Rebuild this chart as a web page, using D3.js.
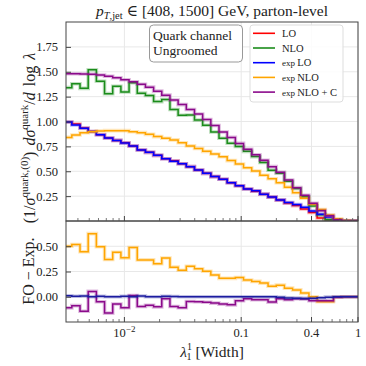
<!DOCTYPE html>
<html>
<head>
<meta charset="utf-8">
<script src="https://cdn.jsdelivr.net/npm/d3@7"></script>
<style>
  html, body { margin: 0; padding: 0; background: #fff; }
  svg text { font-family: "Liberation Serif", "DejaVu Serif", serif; fill: #222; }
</style>
</head>
<body>
<div id="vis"></div>
<script>
// binning: 36 log bins, 0.07 decade wide, last edge at 1
var nBins = 36;
var binDec = 0.07;

// top panel, per bin (left -> right)
var lo      = [0.995,0.975,0.935,0.90,0.867,0.834,0.81,0.786,0.754,0.714,0.69,0.66,0.625,0.605,0.575,0.546,0.513,0.479,0.446,0.419,0.385,0.355,0.322,0.30,0.27,0.24,0.21,0.18,0.155,0.12,0.085,0.03,0.012,0.003,0,0];
var nlo     = [1.34,1.38,1.333,1.52,1.405,1.28,1.355,1.297,1.39,1.285,1.262,1.20,1.22,1.12,1.063,1.066,1.014,0.962,0.894,0.832,0.782,0.748,0.70,0.647,0.588,0.51,0.48,0.40,0.327,0.244,0.152,0.062,0.013,0,0,0];
var expLo   = [0.995,0.965,0.932,0.90,0.867,0.834,0.81,0.783,0.754,0.714,0.69,0.66,0.625,0.60,0.575,0.546,0.513,0.479,0.446,0.419,0.385,0.355,0.322,0.303,0.27,0.24,0.212,0.185,0.165,0.137,0.10,0.067,0.04,0.012,0.002,0];
var expNlo  = [0.84,0.864,0.888,0.897,0.905,0.908,0.908,0.908,0.897,0.888,0.871,0.848,0.831,0.815,0.787,0.755,0.728,0.70,0.674,0.645,0.607,0.573,0.535,0.502,0.46,0.425,0.385,0.34,0.285,0.228,0.168,0.115,0.06,0.022,0.005,0];
var expNloC = [1.48,1.48,1.478,1.475,1.468,1.455,1.44,1.42,1.40,1.375,1.345,1.305,1.265,1.215,1.17,1.12,1.075,1.02,0.96,0.895,0.84,0.78,0.72,0.665,0.61,0.546,0.489,0.412,0.335,0.258,0.178,0.104,0.054,0.012,0,0];

// bottom panel: fixed order minus expansion
var diffLo   = [0.01,0.005,0.008,0,0.004,0,0,0.004,0,0.008,0,0,0.004,0.002,0,0,0,0,0,0,0,0,0,0,0,0,-0.005,-0.012,-0.015,-0.018,-0.015,-0.01,-0.004,0,0,0];
var diffNlo  = [0.50,0.517,0.445,0.625,0.495,0.37,0.44,0.385,0.487,0.365,0.365,0.326,0.384,0.293,0.262,0.302,0.277,0.252,0.215,0.182,0.182,0.19,0.165,0.152,0.135,0.105,0.115,0.085,0.068,0.036,0,-0.05,-0.05,-0.005,0,0];
var diffNloC = [-0.11,-0.088,-0.143,0.053,-0.05,-0.162,-0.072,-0.109,0.013,-0.096,-0.085,-0.1,-0.02,-0.097,-0.108,-0.047,-0.05,-0.055,-0.063,-0.073,-0.08,-0.04,-0.02,-0.03,-0.03,-0.053,-0.02,-0.03,-0.02,-0.022,-0.04,-0.04,-0.04,-0.005,0,0];

var topTicks = [0.25, 0.5, 0.75, 1.0, 1.25, 1.5, 1.75];
var botTicks = [0, 0.25, 0.5];
var xTicks = [0.01, 0.1, 0.4, 1];
var xTickLabels = ["10", "0.1", "0.4", "1"];

var legendNames = ["LO", "NLO", "exp LO", "exp NLO", "exp NLO + C"];
var colors = {lo: "#ff0000", nlo: "#1a8c1a", expLo: "#0000ff", expNlo: "#ffa500", expNloC: "#8b0a8b"};

var W = 366, H = 366;
var margin = {left: 66, right: 8, top: 22};
var topBottom = 221, botBottom = 322;

var svg = d3.select("#vis").append("svg").attr("width", W).attr("height", H);

var edges = d3.range(nBins + 1).map(function(k) { return Math.pow(10, -(nBins - k) * binDec); });

var x = d3.scaleLog().domain([Math.pow(10, -2.5), 1]).range([margin.left, W - margin.right]);
var yTop = d3.scaleLinear().domain([0, 2.0]).range([topBottom, margin.top]);
var yBot = d3.scaleLinear().domain([-0.25, 0.75]).range([botBottom, topBottom]);

svg.append("clipPath").attr("id", "clipTop").append("rect")
  .attr("x", x.range()[0]).attr("y", margin.top)
  .attr("width", x.range()[1] - x.range()[0]).attr("height", topBottom - margin.top);
svg.append("clipPath").attr("id", "clipBot").append("rect")
  .attr("x", x.range()[0]).attr("y", topBottom)
  .attr("width", x.range()[1] - x.range()[0]).attr("height", botBottom - topBottom);

function stepPath(vals, y) {
  var p = "M" + x(edges[0]) + "," + y(vals[0]);
  for (var i = 0; i < vals.length; i++) {
    if (i > 0) p += "V" + y(vals[i]);
    p += "H" + x(edges[i + 1]);
  }
  return p;
}

// grids
function grid(y, ticks, y0, y1) {
  var g = svg.append("g").attr("class", "grid");
  g.selectAll(".gx").data(xTicks).enter().append("line")
    .attr("x1", function(d) { return x(d); }).attr("x2", function(d) { return x(d); })
    .attr("y1", y0).attr("y2", y1)
    .attr("stroke", "#e8e8e8").attr("stroke-width", 1);
  g.selectAll(".gy").data(ticks).enter().append("line")
    .attr("x1", x.range()[0]).attr("x2", x.range()[1])
    .attr("y1", function(d) { return y(d); }).attr("y2", function(d) { return y(d); })
    .attr("stroke", "#e8e8e8").attr("stroke-width", 1);
}
grid(yTop, topTicks, margin.top, topBottom);
grid(yBot, botTicks, topBottom, botBottom);

function drawSeries(vals, y, color, clip) {
  var g = svg.append("g").attr("clip-path", "url(#" + clip + ")");
  g.append("path").attr("d", stepPath(vals, y))
    .attr("fill", "none").attr("stroke", color).attr("stroke-width", 3.6).attr("stroke-opacity", 0.28);
  g.append("path").attr("d", stepPath(vals, y))
    .attr("fill", "none").attr("stroke", color).attr("stroke-width", 1.5);
}

drawSeries(lo, yTop, colors.lo, "clipTop");
drawSeries(nlo, yTop, colors.nlo, "clipTop");
drawSeries(expLo, yTop, colors.expLo, "clipTop");
drawSeries(expNlo, yTop, colors.expNlo, "clipTop");
drawSeries(expNloC, yTop, colors.expNloC, "clipTop");

drawSeries(diffNlo, yBot, colors.expNlo, "clipBot");
drawSeries(diffNloC, yBot, colors.expNloC, "clipBot");
drawSeries(diffLo, yBot, "#1c1ca0", "clipBot");

// frames
[[margin.top, topBottom], [topBottom, botBottom]].forEach(function(r) {
  svg.append("rect").attr("x", x.range()[0]).attr("y", r[0])
    .attr("width", x.range()[1] - x.range()[0]).attr("height", r[1] - r[0])
    .attr("fill", "none").attr("stroke", "#444").attr("stroke-width", 1);
});

// y axes (ticks inward)
function yAxis(y, ticks, fmt) {
  var g = svg.append("g").attr("transform", "translate(" + x.range()[0] + ",0)")
    .call(d3.axisLeft(y).tickValues(ticks).tickSize(-5).tickPadding(8).tickFormat(fmt));
  g.select(".domain").remove();
  g.selectAll(".tick line").attr("stroke", "#444");
  g.selectAll(".tick text").attr("font-size", 12.5).attr("fill", "#333")
    .attr("font-family", "Liberation Serif, serif");
}
yAxis(yTop, topTicks, d3.format(".2f"));
yAxis(yBot, botTicks, d3.format(".2f"));

// x axes: minor + major ticks inward
var minor = [];
[0.001, 0.01, 0.1].forEach(function(dec) {
  for (var m = 2; m <= 9; m++) minor.push(dec * m);
});
minor = minor.filter(function(v) { return v > x.domain()[0] && v < 1 && xTicks.indexOf(+v.toFixed(4)) < 0; });

[topBottom, botBottom].forEach(function(yb) {
  svg.append("g").selectAll("line").data(minor).enter().append("line")
    .attr("x1", function(d) { return x(d); }).attr("x2", function(d) { return x(d); })
    .attr("y1", yb).attr("y2", yb - 3).attr("stroke", "#555").attr("stroke-width", 0.8);
  svg.append("g").selectAll("line").data(xTicks).enter().append("line")
    .attr("x1", function(d) { return x(d); }).attr("x2", function(d) { return x(d); })
    .attr("y1", yb).attr("y2", yb - 5).attr("stroke", "#444").attr("stroke-width", 1);
});

var xl = svg.append("g").selectAll("text").data(xTicks).enter().append("text")
  .attr("x", function(d) { return x(d); }).attr("y", 337)
  .attr("text-anchor", "middle").attr("font-size", 12.5).attr("fill", "#333")
  .text(function(d, i) { return xTickLabels[i]; });
xl.filter(function(d, i) { return i === 0; })
  .append("tspan").attr("dy", -5).attr("font-size", 9).text("\u22122");

// title
var title = svg.append("text").attr("x", (x.range()[0] + x.range()[1]) / 2).attr("y", 16)
  .attr("text-anchor", "middle").attr("font-size", 15.5);
title.append("tspan").attr("font-style", "italic").text("p");
title.append("tspan").attr("dy", 3).attr("font-size", 10.5).attr("font-style", "italic").text("T");
title.append("tspan").attr("font-size", 10.5).text(",jet");
title.append("tspan").attr("dy", -3).text(" \u2208 [408, 1500] GeV, parton-level");

// x label
var xlab = svg.append("text").attr("x", (x.range()[0] + x.range()[1]) / 2).attr("y", 357)
  .attr("text-anchor", "middle").attr("font-size", 15.5);
xlab.append("tspan").attr("font-style", "italic").text("\u03bb");
xlab.append("tspan").attr("font-size", 10).attr("dy", -7).text("1");
xlab.append("tspan").attr("font-size", 10).attr("dx", -5).attr("dy", 10).text("1");
xlab.append("tspan").attr("dy", -3).text(" [Width]");

// y label top
var yl = svg.append("text").attr("transform", "translate(35,138) rotate(-90)")
  .attr("text-anchor", "middle").attr("font-size", 16).attr("word-spacing", 2);
yl.append("tspan").text("(1/");
yl.append("tspan").attr("font-style", "italic").text("\u03c3");
yl.append("tspan").attr("font-size", 11).attr("dy", -7).text("quark,(0)");
yl.append("tspan").attr("dy", 7).text(") ");
yl.append("tspan").attr("font-style", "italic").text("d\u03c3");
yl.append("tspan").attr("font-size", 11).attr("dy", -7).text("quark");
yl.append("tspan").attr("dy", 7).text("/");
yl.append("tspan").attr("font-style", "italic").text("d");
yl.append("tspan").text(" log ");
yl.append("tspan").attr("font-style", "italic").text("\u03bb");

// y label bottom
svg.append("text").attr("transform", "translate(34,271) rotate(-90)")
  .attr("text-anchor", "middle").attr("font-size", 16).text("FO \u2212 Exp.");

// text box
svg.append("rect").attr("x", 149.5).attr("y", 25).attr("width", 93).attr("height", 37)
  .attr("rx", 4).attr("fill", "#fff").attr("stroke", "#999").attr("stroke-width", 1);
svg.append("text").attr("x", 153).attr("y", 40).attr("font-size", 13.5).text("Quark channel");
svg.append("text").attr("x", 153).attr("y", 55).attr("font-size", 13.5).text("Ungroomed");

// legend
var legColors = [colors.lo, colors.nlo, colors.expLo, colors.expNlo, colors.expNloC];
svg.append("rect").attr("x", 250).attr("y", 25).attr("width", 93).attr("height", 77)
  .attr("rx", 3).attr("fill", "#fff").attr("fill-opacity", 0.85).attr("stroke", "#ddd").attr("stroke-width", 1);
var leg = svg.append("g").selectAll("g").data(legendNames).enter().append("g")
  .attr("transform", function(d, i) { return "translate(253," + (33.3 + i * 14.7) + ")"; });
leg.append("line").attr("x1", 0).attr("x2", 22).attr("y1", 0).attr("y2", 0)
  .attr("stroke", function(d, i) { return legColors[i]; }).attr("stroke-width", 1.6);
leg.each(function(d) {
  var t = d3.select(this).append("text").attr("x", 29).attr("y", 3.5).attr("font-size", 10.5).attr("fill", "#333");
  if (d.indexOf("exp") === 0) {
    t.append("tspan").attr("font-size", 9).text("exp ");
    t.append("tspan").text(d.slice(4));
  } else {
    t.text(d);
  }
});
</script>
</body>
</html>
